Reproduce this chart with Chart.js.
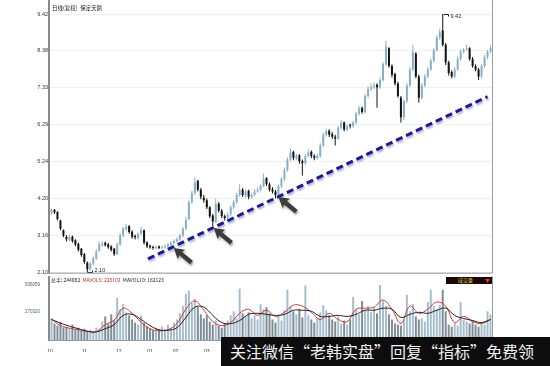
<!DOCTYPE html>
<html>
<head>
<meta charset="utf-8">
<script src="https://cdn.jsdelivr.net/npm/chart.js@4.4.1/dist/chart.umd.min.js"></script>
<style>
  html, body { margin: 0; padding: 0; background: #fff; }
  #wrap { position: relative; width: 550px; height: 366px; overflow: hidden; }
  #main-box { position: absolute; left: 0; top: 0; width: 550px; height: 278px; }
  #vol-box { position: absolute; left: 0; top: 276px; width: 550px; height: 76px; }
  #banner {
    position: absolute; left: 221px; top: 337px; width: 329px; height: 29px;
    background: #0d0d0d; color: #f2f2f2; font-family: "Noto Sans CJK SC", sans-serif;
    font-size: 16px; line-height: 29px; padding-left: 9px; white-space: nowrap; overflow: hidden;
  }
</style>
</head>
<body>
<div id="wrap">
  <div id="main-box"><canvas id="main-chart"></canvas></div>
  <div id="vol-box"><canvas id="vol-chart"></canvas></div>
  <div id="banner">关注微信“老韩实盘”回复“指标”免费领</div>
</div>
<script>
/* daily candles, 保定天鹅 (adjusted) */
const OPENS = [
  3.78,3.88,3.82,3.58,3.30,3.12,3.02,3.12,3.02,2.92,
  2.78,2.62,2.38,2.20,2.36,2.50,2.72,2.88,2.95,2.90,
  2.84,2.78,2.62,2.90,3.15,3.33,3.42,3.26,3.14,3.08,
  3.20,3.30,2.96,2.86,2.83,2.79,2.84,2.79,2.81,2.84,
  2.88,2.94,2.99,3.04,3.15,3.35,3.62,4.10,4.35,4.70,
  4.45,4.22,4.15,3.95,3.72,3.55,4.05,3.85,3.70,3.65,
  3.76,3.95,4.10,4.30,4.45,4.28,4.42,4.24,4.30,4.40,
  4.45,4.55,4.78,4.60,4.46,4.40,4.30,4.55,4.75,5.00,
  5.30,5.52,5.33,5.42,5.25,5.20,5.40,5.52,5.40,5.34,
  5.40,5.70,6.00,6.12,6.02,5.95,5.90,6.20,6.35,6.14,
  6.26,6.25,6.35,6.60,6.76,6.65,7.10,7.30,7.35,7.42,
  7.35,7.55,8.00,8.45,7.95,7.72,7.45,7.05,6.50,6.95,
  7.40,7.85,8.30,7.65,7.05,7.40,7.65,7.85,8.10,8.40,
  8.75,8.95,8.55,8.05,7.78,7.65,7.85,8.15,8.35,8.42,
  8.45,8.15,7.95,7.85,7.65,7.95,8.20,8.35
];
const HIGHS = [
  3.92,3.90,3.84,3.60,3.32,3.16,3.18,3.15,3.05,2.95,
  2.80,2.66,2.42,2.40,2.56,2.76,2.98,3.00,2.98,2.94,
  2.88,2.80,2.95,3.22,3.40,3.48,3.44,3.30,3.18,3.24,
  3.40,3.32,2.98,2.90,2.86,2.88,2.87,2.86,2.90,2.94,
  3.00,3.05,3.10,3.20,3.40,3.68,4.15,4.42,4.80,4.72,
  4.50,4.30,4.20,3.98,3.76,4.20,4.10,3.90,3.75,3.80,
  4.00,4.16,4.36,4.60,4.50,4.46,4.45,4.35,4.46,4.52,
  4.60,4.90,4.80,4.65,4.52,4.44,4.60,4.80,5.08,5.36,
  5.62,5.55,5.46,5.45,5.30,5.46,5.58,5.56,5.45,5.45,
  5.76,6.06,6.18,6.16,6.08,6.00,6.26,6.42,6.38,6.30,
  6.32,6.40,6.66,6.82,6.80,7.16,7.38,7.45,7.48,7.46,
  7.62,8.06,8.66,8.48,8.00,7.76,7.50,7.10,7.00,7.46,
  7.92,8.55,8.34,7.70,7.46,7.72,7.92,8.16,8.46,8.82,
  9.00,9.42,8.60,8.10,7.82,7.92,8.22,8.42,8.46,8.55,
  8.48,8.20,8.00,7.90,8.00,8.26,8.40,8.52
];
const LOWS = [
  3.74,3.76,3.58,3.30,3.10,2.98,2.98,2.95,2.85,2.70,
  2.55,2.35,2.10,2.16,2.32,2.46,2.68,2.84,2.84,2.78,
  2.70,2.58,2.60,2.86,3.10,3.28,3.20,3.06,3.04,3.04,
  3.16,2.90,2.80,2.78,2.75,2.76,2.76,2.76,2.78,2.80,
  2.85,2.90,2.95,3.00,3.10,3.30,3.58,4.05,4.30,4.40,
  4.18,4.08,3.90,3.65,3.42,3.50,3.80,3.64,3.58,3.60,
  3.70,3.90,4.05,4.25,4.24,4.22,4.18,4.20,4.26,4.36,
  4.40,4.52,4.55,4.40,4.34,4.20,4.26,4.50,4.70,4.96,
  5.25,5.28,5.28,5.18,4.85,5.15,5.36,5.34,5.28,5.30,
  5.36,5.66,5.95,5.94,5.88,5.70,5.86,6.15,6.10,6.10,
  6.18,6.20,6.30,6.55,6.60,6.60,7.04,7.25,7.30,6.77,
  7.30,7.50,7.95,7.90,7.62,7.40,7.05,6.35,6.42,6.90,
  7.35,7.80,7.60,6.91,7.00,7.35,7.60,7.80,8.05,8.35,
  8.70,8.50,7.98,7.68,7.60,7.60,7.82,8.10,8.30,8.38,
  8.10,7.90,7.80,7.55,7.60,7.90,8.15,8.30
];
const CLOSES = [
  3.88,3.80,3.62,3.35,3.15,3.05,3.10,3.00,2.90,2.75,
  2.60,2.40,2.20,2.35,2.50,2.70,2.90,2.92,2.88,2.82,
  2.75,2.62,2.90,3.15,3.35,3.40,3.25,3.12,3.10,3.20,
  3.30,2.95,2.85,2.82,2.80,2.83,2.80,2.82,2.85,2.90,
  2.95,3.00,3.05,3.15,3.35,3.60,4.10,4.35,4.65,4.45,
  4.25,4.15,3.95,3.70,3.55,4.05,3.85,3.70,3.65,3.75,
  3.95,4.10,4.30,4.45,4.30,4.40,4.25,4.30,4.40,4.45,
  4.55,4.75,4.60,4.45,4.40,4.30,4.55,4.75,5.00,5.30,
  5.50,5.35,5.40,5.25,5.20,5.40,5.50,5.40,5.35,5.40,
  5.70,6.00,6.10,6.00,5.95,5.90,6.20,6.35,6.15,6.25,
  6.25,6.35,6.60,6.75,6.65,7.10,7.30,7.35,7.40,7.35,
  7.55,8.00,8.50,7.95,7.70,7.45,7.10,6.50,6.95,7.40,
  7.85,8.35,7.65,7.05,7.40,7.65,7.85,8.10,8.40,8.75,
  8.90,8.55,8.05,7.75,7.65,7.85,8.15,8.35,8.40,8.45,
  8.15,7.95,7.85,7.65,7.95,8.20,8.35,8.45
];
const VOLUMES = [
  210000,160000,140000,175000,120000,130000,110000,150000,100000,120000,
  95000,110000,90000,100000,85000,120000,110000,180000,230000,160000,
  250000,190000,410000,300000,350000,270000,240000,200000,170000,150000,
  240000,170000,130000,110000,95000,120000,100000,130000,110000,150000,
  120000,170000,200000,260000,330000,450000,480000,360000,400000,320000,
  250000,210000,240000,180000,150000,190000,140000,120000,160000,190000,
  240000,280000,210000,500000,260000,230000,270000,210000,240000,200000,
  350000,300000,320000,260000,200000,170000,230000,190000,290000,490000,
  330000,280000,250000,300000,220000,530000,240000,200000,170000,210000,
  270000,340000,290000,240000,200000,180000,230000,160000,190000,150000,
  200000,420000,300000,250000,380000,290000,330000,270000,310000,260000,
  540000,380000,330000,250000,200000,160000,150000,140000,200000,440000,
  280000,350000,230000,200000,210000,180000,370000,490000,330000,300000,
  340000,490000,280000,150000,130000,170000,140000,370000,200000,180000,
  160000,190000,150000,130000,160000,150000,280000,250000
];
const MAVOL5 = [
  205000,140000,115000,100000,85000,80000,150000,195000,310000,260000,
  175000,110000,90000,100000,160000,300000,380000,290000,180000,140000,
  170000,260000,300000,240000,290000,230000,270000,340000,330000,270000,
  200000,260000,200000,180000,300000,310000,320000,390000,300000,160000,
  330000,260000,300000,370000,330000,170000,230000,180000,160000,200000
];
const MAVOL10 = [
  200000,165000,135000,110000,85000,80000,110000,150000,240000,250000,
  200000,140000,100000,95000,120000,220000,320000,320000,240000,170000,
  160000,190000,250000,260000,250000,240000,250000,290000,290000,280000,
  230000,230000,240000,230000,250000,290000,290000,310000,300000,220000,
  250000,270000,260000,290000,310000,240000,210000,190000,170000,200000
];
const MA_STEP = 3;

const Y_TICKS = [9.42, 8.38, 7.33, 6.29, 5.24, 4.20, 3.16, 2.10];
const VOL_TICKS = [536059, 270320];
const MONTH_POS = [-0.5, 11, 22.5, 33, 41.5, 52, 63, 74, 85, 96, 107, 118, 129, 140];
const MONTH_LABELS = ['10','11','12','01','02','03','04','05','06','07','08','09','10','11'];

// support line and the three touches it points at
const TREND_X = [32.3, 146];
const TREND_Y = [2.49, 7.08];
const ARROW_X = [40.6, 54.0, 75.7];
const ARROW_Y = [2.83, 3.39, 4.27];

const UP = '#88afc6', DOWN = '#141414';
const VOL_UP = '#a7bdcb', VOL_DOWN = '#7f8d97';
const N = CLOSES.length;
const idx = CLOSES.map((_, i) => i);
const isUp = idx.map(i => CLOSES[i] >= OPENS[i]);

const frame = {
  id: 'frame',
  afterDraw(chart, args, opts) {
    const { ctx, chartArea: a } = chart;
    ctx.save();
    ctx.strokeStyle = '#8a8a8a';
    ctx.lineWidth = 2;
    ctx.beginPath(); ctx.moveTo(a.left - 1, 0); ctx.lineTo(a.left - 1, a.bottom + 1); ctx.stroke();
    ctx.lineWidth = 1;
    ctx.strokeStyle = '#9a9a9a';
    ctx.beginPath();
    ctx.moveTo(a.right + 0.5, opts.rightTop); ctx.lineTo(a.right + 0.5, a.bottom + 0.5);
    ctx.moveTo(a.left, a.bottom + 0.5); ctx.lineTo(a.right + 0.5, a.bottom + 0.5);
    ctx.stroke();
    ctx.restore();
  }
};

const trendShadow = {
  id: 'trendShadow',
  beforeDatasetDraw(chart, args) {
    if (args.meta.type !== 'line') return;
    const c = chart.ctx;
    c.save();
    c.shadowColor = 'rgba(175,170,215,0.95)';
    c.shadowOffsetX = 1; c.shadowOffsetY = 2; c.shadowBlur = 2;
  },
  afterDatasetDraw(chart, args) {
    if (args.meta.type === 'line') chart.ctx.restore();
  }
};

const arrows = {
  id: 'arrows',
  afterDatasetsDraw(chart) {
    const { ctx, scales: { x, y } } = chart;
    ARROW_X.forEach((v, j) => {
      ctx.save();
      ctx.translate(x.getPixelForValue(v) + 1, y.getPixelForValue(ARROW_Y[j]) + 1);
      ctx.rotate(Math.atan2(14, 17));
      ctx.beginPath();
      ctx.moveTo(0, 0); ctx.lineTo(10, -6); ctx.lineTo(9, -2.2); ctx.lineTo(23, -2.2);
      ctx.lineTo(23, 2.2); ctx.lineTo(9, 2.2); ctx.lineTo(10, 6); ctx.closePath();
      ctx.shadowColor = 'rgba(0,0,0,0.35)';
      ctx.shadowOffsetX = 1; ctx.shadowOffsetY = 2; ctx.shadowBlur = 2;
      ctx.fillStyle = '#3c3c3c';
      ctx.fill();
      ctx.restore();
    });
  }
};

const extremes = {
  id: 'extremes',
  afterDatasetsDraw(chart) {
    const { ctx, scales: { x, y } } = chart;
    const hi = HIGHS.indexOf(Math.max(...HIGHS));
    const lo = LOWS.indexOf(Math.min(...LOWS));
    ctx.save();
    ctx.strokeStyle = '#222'; ctx.fillStyle = '#222'; ctx.lineWidth = 1;
    ctx.font = '5.5px "Liberation Sans"'; ctx.textBaseline = 'middle';
    let px = Math.round(x.getPixelForValue(hi)) + 0.5, py = Math.round(y.getPixelForValue(HIGHS[hi])) + 0.5;
    ctx.beginPath(); ctx.moveTo(px, py); ctx.lineTo(px + 5, py); ctx.lineTo(px + 5, py + 2); ctx.stroke();
    ctx.fillText(HIGHS[hi].toFixed(2), px + 7, py + 2);
    px = Math.round(x.getPixelForValue(lo)) + 0.5; py = Math.round(y.getPixelForValue(LOWS[lo])) - 0.5;
    ctx.beginPath(); ctx.moveTo(px, py); ctx.lineTo(px + 5, py); ctx.lineTo(px + 5, py - 2); ctx.stroke();
    ctx.fillText(LOWS[lo].toFixed(2), px + 7, py - 2);
    ctx.restore();
  }
};

const mainTitle = {
  id: 'mainTitle',
  afterDraw(chart) {
    const ctx = chart.ctx;
    ctx.save();
    ctx.fillStyle = '#222';
    ctx.font = '5.5px "Noto Sans CJK SC"';
    ctx.textBaseline = 'middle';
    ctx.fillText('日线(复权)  保定天鹅', chart.chartArea.left + 2, 8);
    ctx.restore();
  }
};

const volHeader = {
  id: 'volHeader',
  afterDraw(chart) {
    const { ctx, chartArea: a } = chart;
    ctx.save();
    ctx.font = '5px "Noto Sans CJK SC"';
    ctx.textBaseline = 'middle';
    let xx = a.left + 1;
    [['总手: 244082  ', '#222'], ['MAVOL5: 228102  ', '#c83030'], ['MAVOL10: 182123', '#222']].forEach(([t, c]) => {
      ctx.fillStyle = c; ctx.fillText(t, xx, 4.5); xx += ctx.measureText(t).width;
    });
    ctx.fillStyle = '#1c0606';
    ctx.fillRect(a.right - 46, 1, 46, 7);
    ctx.fillStyle = '#e6dc2a';
    ctx.fillText('成交量', a.right - 34, 4.5);
    ctx.fillStyle = '#e03a3a';
    ctx.fillText('▼', a.right - 7, 4.5);
    ctx.restore();
  }
};

new Chart(document.getElementById('main-chart'), {
  type: 'bar',
  data: {
    datasets: [
      {
        type: 'line', order: 0,
        data: TREND_X.map((v, k) => ({ x: v, y: TREND_Y[k] })),
        borderColor: '#1b1b8e', borderWidth: 3, borderDash: [7, 4], pointRadius: 0, fill: false,
      },
      {
        order: 1, grouped: false, maxBarThickness: 2, minBarLength: 1,
        data: idx.map(i => ({ x: i, y: [Math.min(OPENS[i], CLOSES[i]), Math.max(OPENS[i], CLOSES[i])] })),
        backgroundColor: isUp.map(u => u ? UP : DOWN),
      },
      {
        order: 2, grouped: false, maxBarThickness: 1,
        data: idx.map(i => ({ x: i, y: [LOWS[i], HIGHS[i]] })),
        backgroundColor: isUp.map(u => u ? UP : DOWN),
      },
    ],
  },
  options: {
    responsive: true, maintainAspectRatio: false, animation: false,
    layout: { padding: { top: 14, right: 58, bottom: 4, left: 0 } },
    plugins: { legend: { display: false }, tooltip: { enabled: false }, frame: { rightTop: 0 } },
    scales: {
      x: { type: 'linear', offset: false, min: -0.5, max: N - 0.5, display: false },
      y: {
        min: 2.10, max: 9.42,
        afterBuildTicks: s => { s.ticks = Y_TICKS.map(v => ({ value: v })); },
        afterFit: s => { s.width = 50; },
        grid: { color: '#efefef', drawTicks: false },
        border: { display: false },
        ticks: { padding: 2, color: '#333', font: { size: 5.5, family: 'Liberation Sans' }, callback: v => v.toFixed(2) },
      },
    },
  },
  plugins: [frame, trendShadow, arrows, extremes, mainTitle],
});

new Chart(document.getElementById('vol-chart'), {
  type: 'bar',
  data: {
    datasets: [
      {
        type: 'line', order: 0,
        data: MAVOL10.map((v, k) => ({ x: k * MA_STEP, y: v })),
        borderColor: '#222', borderWidth: 1, pointRadius: 0, tension: 0.4, fill: false,
      },
      {
        type: 'line', order: 0,
        data: MAVOL5.map((v, k) => ({ x: k * MA_STEP, y: v })),
        borderColor: '#cc3a3a', borderWidth: 1, pointRadius: 0, tension: 0.4, fill: false,
      },
      {
        order: 1, maxBarThickness: 2,
        data: idx.map(i => ({ x: i, y: VOLUMES[i] })),
        backgroundColor: isUp.map(u => u ? VOL_UP : VOL_DOWN),
      },
    ],
  },
  options: {
    responsive: true, maintainAspectRatio: false, animation: false,
    layout: { padding: { top: 9, right: 58, bottom: 0, left: 0 } },
    plugins: { legend: { display: false }, tooltip: { enabled: false }, frame: { rightTop: 0 } },
    scales: {
      x: {
        type: 'linear', offset: false, min: -0.5, max: N - 0.5,
        afterBuildTicks: s => { s.ticks = MONTH_POS.map(v => ({ value: v })); },
        afterFit: s => { s.height = 12; },
        grid: { display: false, offset: false }, border: { display: false },
        ticks: { autoSkip: false, maxRotation: 0, padding: 1, color: '#333', font: { size: 5, family: 'Liberation Sans' },
                 callback: (v, i) => MONTH_LABELS[i] },
      },
      y: {
        min: 0, max: VOL_TICKS[0],
        afterBuildTicks: s => { s.ticks = VOL_TICKS.map(v => ({ value: v })); },
        afterFit: s => { s.width = 50; },
        grid: { display: false }, border: { display: false },
        ticks: { padding: 2, color: '#3d5f86', font: { size: 4.5, family: 'Liberation Sans' } , callback: v => String(v) },
      },
    },
  },
  plugins: [frame, volHeader],
});
</script>
</body>
</html>
